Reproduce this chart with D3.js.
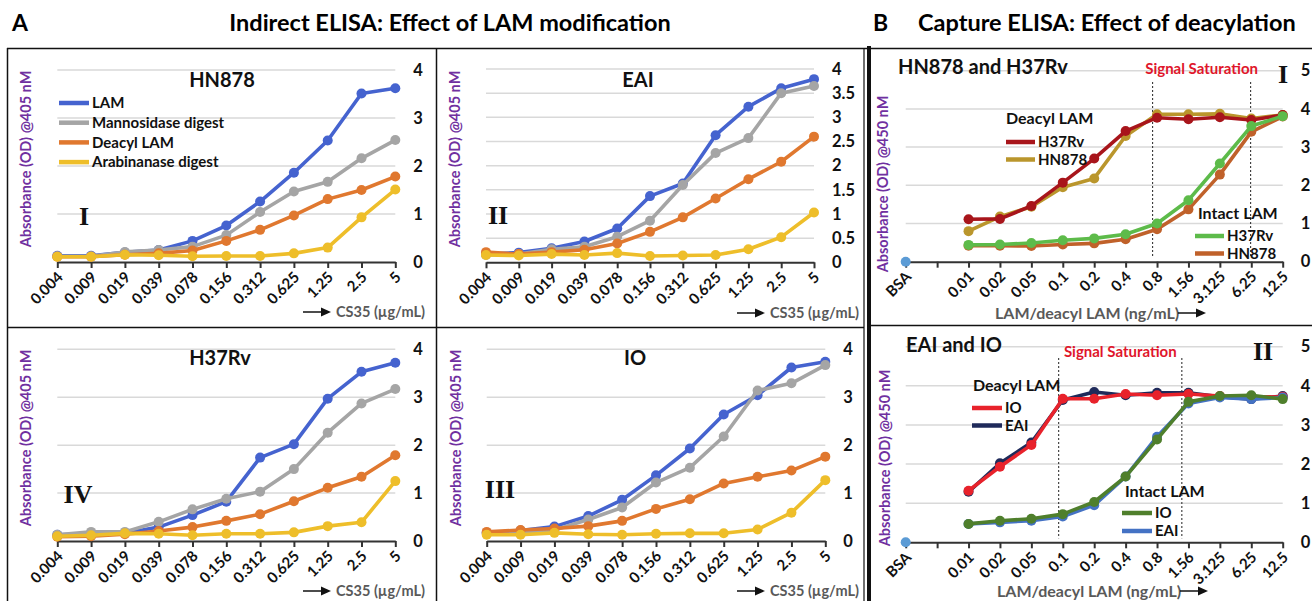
<!DOCTYPE html>
<html><head><meta charset="utf-8">
<script src="https://cdn.jsdelivr.net/npm/d3@7"></script>
<style>
html,body{margin:0;padding:0;background:#fff;}
svg{display:block;font-family:Lato,"Open Sans",sans-serif;}
</style></head>
<body>
<svg id="chart" width="1312" height="601"></svg>
<script>
// ---------- DATA ----------
const concA = ["0.004","0.009","0.019","0.039","0.078","0.156","0.312","0.625","1.25","2.5","5"];
const concB = ["BSA","","0.01","0.02","0.05","0.1","0.2","0.4","0.8","1.56","3.125","6.25","12.5"];
const seriesA = ["LAM","Mannosidase digest","Deacyl LAM","Arabinanase digest"];
const ticksA4 = [0,1,2,3,4];
const ticksA05 = [0,0.5,1,1.5,2,2.5,3,3.5,4];
const ticksB = [0,1,2,3,4,5];

// Panel A-I HN878
const hn878_LAM   = [0.13,0.13,0.20,0.25,0.44,0.76,1.26,1.86,2.53,3.51,3.62];
const hn878_Mann  = [0.12,0.12,0.21,0.25,0.32,0.56,1.04,1.47,1.67,2.16,2.54];
const hn878_Deac  = [0.11,0.11,0.15,0.18,0.24,0.44,0.67,0.97,1.31,1.50,1.78];
const hn878_Arab  = [0.11,0.11,0.15,0.14,0.12,0.125,0.125,0.18,0.30,0.93,1.51];
// Panel A-II EAI
const eai_LAM  = [0.17,0.20,0.29,0.43,0.70,1.37,1.63,2.63,3.22,3.60,3.79];
const eai_Mann = [0.15,0.17,0.27,0.32,0.53,0.86,1.60,2.26,2.57,3.50,3.65];
const eai_Deac = [0.21,0.17,0.21,0.26,0.39,0.63,0.93,1.32,1.72,2.08,2.60];
const eai_Arab = [0.15,0.14,0.17,0.15,0.19,0.13,0.14,0.15,0.27,0.52,1.03];
// Panel A-IV H37Rv
const h37_LAM  = [0.13,0.15,0.16,0.29,0.54,0.82,1.74,2.02,2.97,3.53,3.72];
const h37_Mann = [0.13,0.19,0.19,0.40,0.66,0.88,1.03,1.50,2.26,2.87,3.17];
const h37_Deac = [0.09,0.10,0.14,0.21,0.29,0.42,0.56,0.83,1.11,1.34,1.79];
const h37_Arab = [0.10,0.12,0.16,0.15,0.12,0.15,0.15,0.18,0.31,0.39,1.25];
// Panel A-III IO
const io_LAM  = [0.17,0.22,0.30,0.52,0.86,1.37,1.93,2.64,3.04,3.62,3.74];
const io_Mann = [0.16,0.17,0.23,0.45,0.70,1.22,1.53,2.18,3.14,3.29,3.67];
const io_Deac = [0.19,0.23,0.26,0.31,0.42,0.67,0.87,1.20,1.34,1.47,1.76];
const io_Arab = [0.13,0.13,0.17,0.14,0.13,0.15,0.16,0.16,0.24,0.59,1.27];
// Panel B-I (values for 0.01 ... 12.5)
const bI_deacyl_H37Rv = [1.11,1.12,1.46,2.07,2.70,3.42,3.77,3.73,3.78,3.71,3.84];
const bI_deacyl_HN878 = [0.80,1.18,1.44,1.95,2.18,3.29,3.86,3.86,3.87,3.75,3.84];
const bI_intact_H37Rv = [0.44,0.45,0.49,0.56,0.61,0.72,1.00,1.61,2.57,3.55,3.81];
const bI_intact_HN878 = [0.42,0.42,0.41,0.45,0.48,0.59,0.85,1.37,2.28,3.40,3.80];
// Panel B-II
const bII_deacyl_IO  = [1.32,1.93,2.49,3.67,3.67,3.79,3.76,3.79,3.74,3.71,3.72];
const bII_deacyl_EAI = [1.29,2.02,2.55,3.64,3.84,3.76,3.82,3.82,3.72,3.66,3.74];
const bII_intact_IO  = [0.47,0.55,0.60,0.72,1.03,1.68,2.63,3.59,3.74,3.76,3.66];
const bII_intact_EAI = [0.47,0.51,0.55,0.66,0.95,1.68,2.70,3.55,3.70,3.66,3.70];
const bsaValue = 0;
// signal saturation boundaries (fractional category index)
const satBI  = [7.86, 10.98];
const satBII = [4.87, 8.79];

// ---------- STYLE ----------
const colA = ["#4563CF","#A5A5A5","#E0782F","#EEBE2A"];
const PURPLE = "#7030A0";
const svg = d3.select("#chart");

// ---------- FRAME ----------
const frame = svg.append("g").attr("stroke","#111").attr("fill","none");
frame.append("line").attr("x1",7).attr("x2",1312).attr("y1",48.5).attr("y2",48.5).attr("stroke-width",1.5);
frame.append("line").attr("x1",7.5).attr("x2",7.5).attr("y1",48).attr("y2",601).attr("stroke-width",1.5);
frame.append("line").attr("x1",436.5).attr("x2",436.5).attr("y1",48).attr("y2",601).attr("stroke-width",1.5);
frame.append("line").attr("x1",7).attr("x2",864).attr("y1",327.5).attr("y2",327.5).attr("stroke-width",1.5);
frame.append("line").attr("x1",864).attr("x2",864).attr("y1",48).attr("y2",601).attr("stroke-width",1.2);
frame.append("line").attr("x1",869).attr("x2",869).attr("y1",46).attr("y2",601).attr("stroke-width",4);
frame.append("line").attr("x1",871).attr("x2",1312).attr("y1",325.5).attr("y2",325.5).attr("stroke-width",1.5);

// headers
svg.append("text").attr("x",12).attr("y",31).attr("font-size",23).attr("font-weight",700).text("A");
svg.append("text").attr("x",450).attr("y",31).attr("text-anchor","middle").attr("font-size",23.5).attr("font-weight",700).text("Indirect ELISA: Effect of LAM modification");
svg.append("text").attr("x",873).attr("y",31).attr("font-size",23).attr("font-weight",700).text("B");
svg.append("text").attr("x",918).attr("y",31).attr("font-size",23.5).attr("font-weight",700).text("Capture ELISA: Effect of deacylation");

// ---------- PANEL DRAWER ----------
function drawPanel(p){
  const g = svg.append("g");
  const x = d3.scalePoint().domain(p.cats).range([p.x0,p.x1]);
  const y = d3.scaleLinear().domain([0,p.ymax]).range([p.y0,p.yTop]);
  // gridlines
  g.append("g").selectAll("line").data(p.ticks.filter(t=>t>0)).join("line")
    .attr("x1",p.x0).attr("x2",p.x1).attr("y1",d=>y(d)).attr("y2",d=>y(d))
    .attr("stroke","#D9D9D9").attr("stroke-width",1.5);
  // right axis labels
  const ax = d3.axisRight(y).tickValues(p.ticks).tickSize(0).tickPadding(0).tickFormat(d3.format("~g"));
  const ga = g.append("g").attr("transform",`translate(${p.x1+18},0)`).call(ax);
  ga.select(".domain").remove();
  ga.selectAll("text").attr("font-size",16.5).attr("font-weight",700).attr("font-family","Lato").attr("fill","#111").attr("text-anchor","start");
  // bottom axis
  const bx = d3.axisBottom(x).tickSize(6).tickSizeOuter(0);
  const gb = g.append("g").attr("transform",`translate(0,${p.y0})`).call(bx);
  gb.select(".domain").attr("stroke","#333").attr("stroke-width",2);
  gb.selectAll(".tick line").attr("stroke","#333").attr("stroke-width",2);
  gb.selectAll("text").attr("x",0).attr("y",0).attr("dy",0)
    .attr("transform","translate(6,16) rotate(-45)").attr("text-anchor","end")
    .attr("font-size",15).attr("font-weight",700).attr("font-family","Lato").attr("fill","#111");
  // saturation dotted lines
  if(p.sat){
    const xi = d3.scaleLinear().domain([0,p.cats.length-1]).range([p.x0,p.x1]);
    g.append("g").selectAll("line").data(p.sat).join("line")
      .attr("x1",d=>xi(d)).attr("x2",d=>xi(d)).attr("y1",p.satTop).attr("y2",p.y0-4)
      .attr("stroke","#222").attr("stroke-width",1).attr("stroke-dasharray","2,2");
    g.append("text").attr("x",(xi(p.sat[0])+xi(p.sat[1]))/2 + (p.satDx||0)).attr("y",p.satY)
      .attr("text-anchor","middle").attr("font-size",15).attr("font-weight",700).attr("fill","#E0162B")
      .text("Signal Saturation");
  }
  // series
  const line = d3.line().x(d=>x(d.c)).y(d=>y(d.v));
  p.series.forEach(s=>{
    const pts = s.values.map((v,i)=>({c:p.seriesCats[i], v}));
    g.append("path").datum(pts).attr("d",line).attr("fill","none").attr("stroke",s.color)
      .attr("stroke-width",3.6).attr("stroke-linejoin","round");
    g.append("g").selectAll("circle").data(pts).join("circle")
      .attr("cx",d=>x(d.c)).attr("cy",d=>y(d.v)).attr("r",5).attr("fill",s.color);
  });
  if(p.bsa!==undefined){
    g.append("circle").attr("cx",x("BSA")).attr("cy",y(p.bsa)).attr("r",5).attr("fill","#5B9BD5");
  }
  // y-axis title
  g.append("text").attr("transform",`translate(${p.ytX},${p.ytY}) rotate(-90)`)
    .attr("text-anchor","middle").attr("dy","0.35em").attr("font-size",14.5).attr("font-weight",700)
    .attr("fill",PURPLE).text(p.ytitle);
  // panel title
  g.append("text").attr("x",p.tX).attr("y",p.tY).attr("text-anchor",p.tAnchor||"middle")
    .attr("font-size",p.tSize||20).attr("font-weight",700).attr("fill","#111").text(p.title);
  // roman numeral
  g.append("text").attr("x",p.rX).attr("y",p.rY).attr("text-anchor","middle")
    .attr("font-family","'Liberation Serif','Times New Roman',serif").attr("font-size",26).attr("font-weight",700)
    .attr("fill","#111").text(p.roman);
  // x label with arrow
  const xl = g.append("g");
  if(p.arrowFirst){
    drawArrow(xl,p.xlX,p.xlY);
    xl.append("text").attr("x",p.xlX+33).attr("y",p.xlY).attr("dy","0.35em").attr("font-size",14.5)
      .attr("font-weight",700).attr("fill","#595959").text(p.xlabel);
  } else {
    xl.append("text").attr("x",p.xlX).attr("y",p.xlY).attr("dy","0.35em").attr("font-size",16)
      .attr("font-weight",700).attr("fill","#595959").text(p.xlabel);
    drawArrow(xl,p.xlX+p.xlW+6,p.xlY);
  }
  // legend(s)
  (p.legends||[]).forEach(L=>{
    const lg = g.append("g");
    if(L.head) lg.append("text").attr("x",L.hx).attr("y",L.hy).attr("font-size",16).attr("font-weight",700).attr("fill","#111").text(L.head);
    L.items.forEach((it,i)=>{
      const yy = L.y + i*L.dy;
      lg.append("line").attr("x1",L.x).attr("x2",L.x+L.w).attr("y1",yy).attr("y2",yy)
        .attr("stroke",it.color).attr("stroke-width",4.5);
      lg.append("text").attr("x",L.x+L.w+3).attr("y",yy).attr("dy","0.35em")
        .attr("font-size",L.fs).attr("font-weight",700).attr("fill","#111").text(it.name);
    });
  });
}
function drawArrow(g,x,y){
  g.append("line").attr("x1",x).attr("x2",x+20).attr("y1",y).attr("y2",y).attr("stroke","#111").attr("stroke-width",1.5);
  g.append("path").attr("d",`M${x+28},${y} L${x+18},${y-4.5} L${x+18},${y+4.5} Z`).attr("fill","#111");
}

const mkA = (arrs)=>arrs.map((v,i)=>({name:seriesA[i], color:colA[i], values:v}));
const legendA = {x:59,y:103,dy:19.7,w:30,fs:15,items:seriesA.map((n,i)=>({name:n,color:colA[i]}))};
const ytA = "Absorbance (OD) @405 nM";
const ytB = "Absorbance (OD) @450 nM";
const xlA = "CS35 (µg/mL)";
const xlB = "LAM/deacyl LAM (ng/mL)";

drawPanel({cats:concA, seriesCats:concA, x0:57.3,x1:395.3,y0:262,yTop:70,ymax:4,ticks:ticksA4,
  series:mkA([hn878_LAM,hn878_Mann,hn878_Deac,hn878_Arab]),
  ytitle:ytA, ytX:26, ytY:159, title:"HN878", tX:222, tY:87, roman:"I", rX:84, rY:225,
  xlabel:xlA, xlX:303, xlY:312, arrowFirst:true, legends:[legendA]});
drawPanel({cats:concA, seriesCats:concA, x0:486,x1:814,y0:262.3,yTop:69,ymax:4,ticks:ticksA05,
  series:mkA([eai_LAM,eai_Mann,eai_Deac,eai_Arab]),
  ytitle:ytA, ytX:455, ytY:159, title:"EAI", tX:638, tY:87, roman:"II", rX:498, rY:224,
  xlabel:xlA, xlX:737, xlY:313, arrowFirst:true});
drawPanel({cats:concA, seriesCats:concA, x0:57.3,x1:395.3,y0:541,yTop:349.3,ymax:4,ticks:ticksA4,
  series:mkA([h37_LAM,h37_Mann,h37_Deac,h37_Arab]),
  ytitle:ytA, ytX:26, ytY:438, title:"H37Rv", tX:220, tY:365, roman:"IV", rX:78, rY:503,
  xlabel:xlA, xlX:303, xlY:591, arrowFirst:true});
drawPanel({cats:concA, seriesCats:concA, x0:486.7,x1:825.3,y0:541,yTop:349.3,ymax:4,ticks:ticksA4,
  series:mkA([io_LAM,io_Mann,io_Deac,io_Arab]),
  ytitle:ytA, ytX:455.5, ytY:438, title:"IO", tX:635, tY:365, roman:"III", rX:500, rY:498,
  xlabel:xlA, xlX:737, xlY:591, arrowFirst:true});

const catsBvals = concB.slice(2);
drawPanel({cats:concB, seriesCats:catsBvals, x0:905.7,x1:1282.7,y0:261.7,yTop:70.7,ymax:5,ticks:ticksB,
  series:[
    {color:"#BA962C", values:bI_deacyl_HN878},
    {color:"#A8151B", values:bI_deacyl_H37Rv},
    {color:"#C0612A", values:bI_intact_HN878},
    {color:"#5DBB4A", values:bI_intact_H37Rv}],
  bsa:bsaValue, sat:satBI, satTop:82, satY:74, satDx:0,
  ytitle:ytB, ytX:883, ytY:184, title:"HN878 and H37Rv", tX:898, tY:74, tAnchor:"start", tSize:20,
  roman:"I", rX:1283, rY:83, xlabel:xlB, xlX:995, xlY:313, xlW:177,
  legends:[
    {head:"Deacyl LAM", hx:1006, hy:124, x:1006, y:142, dy:17.5, w:29, fs:15,
     items:[{name:"H37Rv",color:"#A8151B"},{name:"HN878",color:"#BA962C"}]},
    {head:"Intact LAM", hx:1198, hy:219, x:1195, y:236, dy:17.5, w:29, fs:15,
     items:[{name:"H37Rv",color:"#5DBB4A"},{name:"HN878",color:"#C0612A"}]}]});
drawPanel({cats:concB, seriesCats:catsBvals, x0:905.7,x1:1282.7,y0:542.3,yTop:346.7,ymax:5,ticks:ticksB,
  series:[
    {color:"#1F2A5A", values:bII_deacyl_EAI},
    {color:"#E8222B", values:bII_deacyl_IO},
    {color:"#4472C4", values:bII_intact_EAI},
    {color:"#4F7F2C", values:bII_intact_IO}],
  bsa:bsaValue, sat:satBII, satTop:358, satY:357, satDx:0,
  ytitle:ytB, ytX:885, ytY:458, title:"EAI and IO", tX:906, tY:352, tAnchor:"start", tSize:20,
  roman:"II", rX:1263, rY:360, xlabel:xlB, xlX:997, xlY:591, xlW:177,
  legends:[
    {head:"Deacyl LAM", hx:973, hy:391, x:972, y:408, dy:17.5, w:30, fs:15,
     items:[{name:"IO",color:"#E8222B"},{name:"EAI",color:"#1F2A5A"}]},
    {head:"Intact LAM", hx:1125, hy:497, x:1122, y:513, dy:18, w:30, fs:15,
     items:[{name:"IO",color:"#4F7F2C"},{name:"EAI",color:"#4472C4"}]}]});
</script>
</body></html>
